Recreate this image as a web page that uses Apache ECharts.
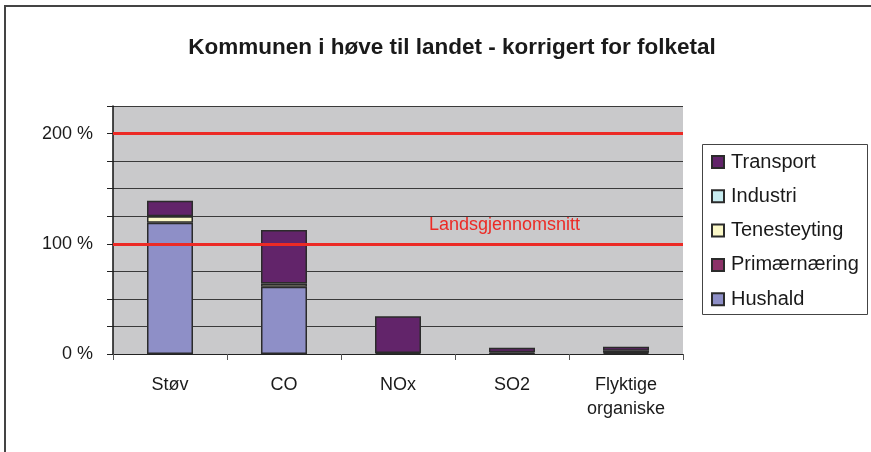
<!DOCTYPE html>
<html>
<head>
<meta charset="utf-8">
<script src="https://cdn.jsdelivr.net/npm/echarts@6/dist/echarts.min.js"></script>
<style>
  html, body { margin: 0; padding: 0; background: #fff; }
  #chart { width: 871px; height: 452px; }
</style>
</head>
<body>
<div id="chart"></div>
<script>
const categories = ['Støv', 'CO', 'NOx', 'SO2', 'Flyktige\norganiske']
// '-' = no segment
const hushald = [119, 61, '-', 0.5, 1]
const primaernaering = ['-', '-', 0.8, 1, 0.5]
const tenesteyting = [6, 3, '-', '-', 1.5]
const industri = ['-', '-', '-', '-', '-']
const transport = [14, 48.5, 33.5, 4.2, 3.5]
const refLines = [100, 200]
const legendOrder = ['Transport', 'Industri', 'Tenesteyting', 'Primærnæring', 'Hushald']

const font = 'Liberation Sans, Arial, sans-serif'
const chart = echarts.init(document.getElementById('chart'))

const mkSeries = (name, data, color) => ({
    name: name,
    type: 'bar',
    stack: 'total',
    barWidth: 46,
    data: data,
    itemStyle: { color: color, borderColor: '#2b2b2b', borderWidth: 1.5 }
})

let series = [
    mkSeries('Hushald', hushald, '#8e8fc7'),
    mkSeries('Primærnæring', primaernaering, '#8c3268'),
    mkSeries('Tenesteyting', tenesteyting, '#fbf8c8'),
    mkSeries('Industri', industri, '#c8ecf0'),
    mkSeries('Transport', transport, '#62246a')
]
// national average lines
series[0].markLine = {
    silent: true,
    symbol: 'none',
    label: { show: false },
    lineStyle: { color: '#ec2a25', width: 3, type: 'solid' },
    data: refLines.map(v => ({ yAxis: v }))
}

const option = {
    backgroundColor: '#fff',
    animation: false,
    title: {
        text: 'Kommunen i høve til landet - korrigert for folketal',
        left: 447,
        top: 31,
        textAlign: 'center',
        textStyle: { fontFamily: font, fontSize: 22.5, fontWeight: 'bold', color: '#1a1a1a' }
    },
    grid: { left: 113, top: 106, width: 570, height: 248, backgroundColor: '#c9c9cb', show: true, borderWidth: 0 },
    legend: {
        orient: 'vertical',
        left: 703,
        top: 145,
        padding: [7, 6, 6, 8],
        data: legendOrder,
        icon: 'rect',
        itemWidth: 12,
        itemHeight: 12,
        itemGap: 14.3,
        textStyle: { fontFamily: font, fontSize: 20, color: '#1a1a1a', padding: [0, 0, 0, 2] }
    },
    xAxis: {
        type: 'category',
        data: categories,
        axisLine: { show: true, lineStyle: { color: '#222', width: 1 } },
        axisTick: { show: true, length: 6, lineStyle: { color: '#555' } },
        axisLabel: { fontFamily: font, fontSize: 18, color: '#1a1a1a', margin: 19, lineHeight: 24 }
    },
    yAxis: {
        type: 'value',
        min: 0,
        max: 225,
        interval: 25,
        axisLine: { show: true, lineStyle: { color: '#111', width: 1.5 } },
        axisTick: { show: true, length: 6, lineStyle: { color: '#222' } },
        splitLine: { show: true, lineStyle: { color: '#3a3a3a', width: 1 } },
        axisLabel: {
            fontFamily: font, fontSize: 18, color: '#1a1a1a', margin: 20,
            formatter: v => (v % 100 === 0 ? v + ' %' : '')
        }
    },
    graphic: [
        {
            type: 'rect',
            shape: { x: 5, y: 6, width: 900, height: 480 },
            style: { fill: 'none', stroke: '#444', lineWidth: 2 },
            silent: true
        },
        {
            type: 'rect',
            shape: { x: 702.5, y: 144.5, width: 165, height: 170 },
            style: { fill: 'none', stroke: '#444', lineWidth: 1 },
            silent: true
        },
        {
            type: 'text',
            left: 429,
            top: 216,
            style: { text: 'Landsgjennomsnitt', fill: '#ec2a25', font: '18px ' + font }
        }
    ],
    series: series
}

chart.setOption(option)
</script>
</body>
</html>
